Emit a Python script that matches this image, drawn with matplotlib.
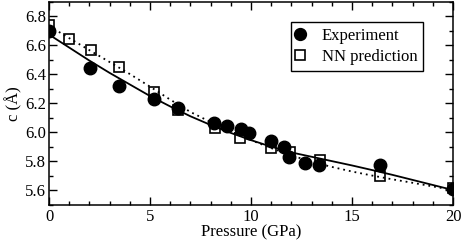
import numpy as np
import matplotlib
matplotlib.use('Agg')
import matplotlib.pyplot as plt
from matplotlib.ticker import MultipleLocator, FormatStrFormatter

# measured c axis vs pressure
exp_p = [0.0, 2.05, 3.47, 5.18, 6.4, 8.17, 8.8, 9.49, 9.92, 10.97, 11.63, 11.88, 12.69, 13.38, 16.4, 20.0]
exp_c = [6.70, 6.445, 6.32, 6.232, 6.166, 6.064, 6.04, 6.025, 5.997, 5.94, 5.895, 5.826, 5.79, 5.77, 5.77, 5.605]

# neural network predictions
nn_p = [0.0, 1.0, 2.06, 3.47, 5.18, 6.37, 8.2, 9.47, 10.97, 11.93, 13.42, 16.4, 20.0]
nn_c = [6.74, 6.645, 6.565, 6.45, 6.275, 6.153, 6.027, 5.96, 5.89, 5.86, 5.81, 5.70, 5.616]

# fit curves, every 1 GPa
fit_p = list(range(0, 21))
fit_exp = [6.675, 6.585, 6.495, 6.41, 6.33, 6.25, 6.178, 6.11, 6.05, 5.995, 5.945,
           5.90, 5.86, 5.83, 5.80, 5.77, 5.738, 5.705, 5.67, 5.635, 5.60]
fit_nn = [6.735, 6.650, 6.567, 6.485, 6.402, 6.315, 6.225, 6.14, 6.07, 6.005, 5.945,
          5.89, 5.84, 5.795, 5.76, 5.728, 5.70, 5.674, 5.65, 5.625, 5.60]

plt.rcParams['font.family'] = ['Liberation Serif', 'DejaVu Serif']
plt.rcParams['font.size'] = 12

fig = plt.figure(figsize=(4.63, 2.40), dpi=100)
ax = fig.add_axes([49 / 463, 1 - 204.5 / 240, 404 / 463, 202.5 / 240])

ax.plot(fit_p, fit_exp, color='black', lw=1.3, zorder=2)
ax.plot(fit_p, fit_nn, color='black', lw=1.3, ls=(0, (1, 2.2)), zorder=2)
ax.plot(nn_p, nn_c, ls='none', marker='s', ms=7.8, mfc='none', mec='black', mew=1.2,
        label='NN prediction', zorder=3)
ax.plot(exp_p, exp_c, ls='none', marker='o', ms=9, color='black',
        label='Experiment', zorder=4)

ax.set_xlim(0, 20)
ax.set_ylim(5.5, 6.9)
ax.xaxis.set_major_locator(MultipleLocator(5))
ax.xaxis.set_minor_locator(MultipleLocator(1))
ax.yaxis.set_major_locator(MultipleLocator(0.2))
ax.yaxis.set_minor_locator(MultipleLocator(0.1))
ax.yaxis.set_major_formatter(FormatStrFormatter('%.1f'))

ax.tick_params(which='both', direction='in', top=True, right=True, width=1.0, labelsize=12)
ax.tick_params(which='major', length=5.8)
ax.tick_params(which='minor', length=3.0)
ax.tick_params(axis='x', pad=3)
ax.tick_params(axis='y', pad=2)
for s in ax.spines.values():
    s.set_linewidth(1.1)

ax.set_xlabel('Pressure (GPa)', labelpad=0)
ax.set_ylabel('c (Å)', labelpad=2)

handles, labels = ax.get_legend_handles_labels()
leg = ax.legend(handles[::-1], labels[::-1], loc='upper right', bbox_to_anchor=(0.926, 0.9),
                borderaxespad=0, fancybox=False, framealpha=1, edgecolor='black', fontsize=12,
                handlelength=0.4, handletextpad=1.1, borderpad=0.35, labelspacing=0.3,
                markerscale=0.95)
leg.get_frame().set_linewidth(1.0)

fig.savefig('out.png', dpi=100)
